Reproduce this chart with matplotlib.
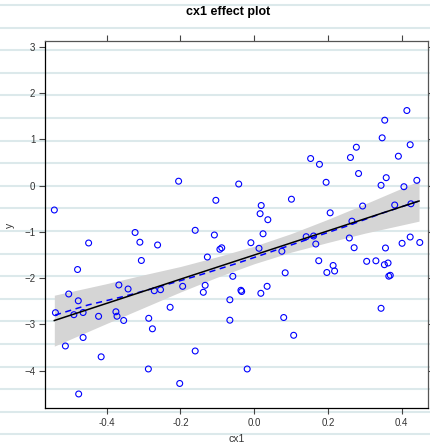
import numpy as np
import matplotlib.pyplot as plt
from matplotlib.lines import Line2D

plt.rcParams['font.family'] = ['Liberation Sans', 'DejaVu Sans']

# observed points
cx1 = [-0.542, -0.323, -0.449, -0.310, -0.262, -0.306, -0.479, -0.367, -0.342, -0.503,
       -0.477, -0.271, -0.254, -0.539, -0.489, -0.464, -0.422, -0.375, -0.372, -0.354,
       -0.286, -0.228, -0.276, -0.464, -0.512, -0.415, -0.287, -0.476, -0.205, -0.042,
       -0.104, 0.101, 0.019, 0.016, 0.037, -0.160, -0.108, 0.024, -0.009, 0.013,
       -0.088, -0.093, -0.127, 0.075, -0.058, 0.084, -0.194, -0.133, 0.035, -0.036,
       -0.034, -0.138, 0.018, -0.066, -0.066, 0.080, 0.107, -0.160, -0.019, -0.202,
       0.414, 0.354, 0.347, 0.277, 0.423, 0.153, 0.177, 0.261, 0.391, 0.283,
       0.195, 0.358, 0.344, 0.406, 0.441, 0.206, 0.294, 0.381, 0.425, 0.265,
       0.141, 0.161, 0.167, 0.258, 0.271, 0.356, 0.401, 0.423, 0.449, 0.175,
       0.305, 0.330, 0.353, 0.363, 0.214, 0.197, 0.218, 0.365, 0.369, 0.344]
y = [-0.529, -1.015, -1.242, -1.225, -1.285, -1.620, -1.815, -2.149, -2.236, -2.344,
     -2.491, -2.273, -2.251, -2.748, -2.791, -2.744, -2.826, -2.728, -2.824, -2.916,
     -2.869, -2.631, -3.096, -3.284, -3.467, -3.701, -3.964, -4.504, 0.093, 0.032,
     -0.320, -0.296, -0.432, -0.609, -0.739, -0.968, -1.069, -1.043, -1.236, -1.357,
     -1.346, -1.378, -1.545, -1.421, -1.962, -1.886, -2.178, -2.156, -2.178, -2.264,
     -2.290, -2.307, -2.329, -2.469, -2.910, -2.852, -3.236, -3.575, -3.964, -4.277,
     1.620, 1.411, 1.030, 0.827, 0.881, 0.583, 0.458, 0.605, 0.633, 0.259,
     0.069, 0.169, 0.004, -0.026, 0.112, -0.590, -0.443, -0.421, -0.395, -0.771,
     -1.106, -1.091, -1.264, -1.134, -1.344, -1.350, -1.249, -1.113, -1.231, -1.625,
     -1.638, -1.627, -1.711, -1.674, -1.728, -1.879, -1.847, -1.959, -1.940, -2.653]

# fitted effect with confidence band
fit_x = [-0.542, -0.4, -0.3, -0.2, -0.1, 0.0, 0.1, 0.2, 0.3, 0.447]
fit_y = [-2.917, -2.546, -2.285, -2.024, -1.763, -1.502, -1.241, -0.980, -0.719, -0.335]
fit_lo = [-3.47, -2.98, -2.64, -2.30, -1.98, -1.69, -1.44, -1.23, -1.03, -0.77]
fit_hi = [-2.37, -2.12, -1.93, -1.75, -1.54, -1.31, -1.04, -0.73, -0.40, 0.10]

# smoother of the partial residuals
smooth_x = [-0.54, -0.45, -0.35, -0.25, -0.15, -0.05, 0.05, 0.15, 0.25, 0.35, 0.445]
smooth_y = [-2.80, -2.58, -2.39, -2.17, -1.94, -1.69, -1.42, -1.15, -0.88, -0.59, -0.34]

xticks = [-0.4, -0.2, 0.0, 0.2, 0.4]
yticks = [-4, -3, -2, -1, 0, 1, 2, 3]

fig = plt.figure(figsize=(4.3, 4.44), dpi=100)

# faint horizontal stripes in the background of the whole picture
for yy in np.arange(5, 444, 22.6):
    fig.add_artist(Line2D([0, 1], [1 - yy / 444] * 2, transform=fig.transFigure,
                          color='#dce9eb', lw=1.5, zorder=-5))

ax = fig.add_axes([45 / 430, 36 / 444, 383 / 430, 367 / 444])
ax.set_facecolor('none')

ax.fill_between(fit_x, fit_lo, fit_hi, color='#d5d5d5', lw=0, zorder=1)
ax.scatter(cx1, y, s=18, facecolors='none', edgecolors='#0000ff', lw=0.8, zorder=3)
ax.plot(smooth_x, smooth_y, color='#0000ff', lw=1.1, ls=(0, (4, 3)), zorder=4)
ax.plot(fit_x, fit_y, color='black', lw=1.1, zorder=5)

ax.set_xlim(-0.5673, 0.4713)
ax.set_ylim(-4.807, 3.122)
ax.set_xticks(xticks)
ax.set_xticklabels(['-0.4', '-0.2', '0.0', '0.2', '0.4'])
ax.set_yticks(yticks)
ax.tick_params(direction='out', length=4, width=0.8, colors='#444444',
               labelsize=7, labelcolor='#333333', top=True, right=True, pad=3)
for side in ['left', 'bottom']:
    ax.spines[side].set_color('black')
for side in ['top', 'right']:
    ax.spines[side].set_color('#555555')
for sp in ax.spines.values():
    sp.set_linewidth(0.9)

fig.text(228 / 430, 1 - 12 / 444, 'cx1 effect plot', ha='center', va='center',
         fontsize=9, fontweight='bold')
fig.text(237 / 430, 1 - 439 / 444, 'cx1', ha='center', va='center', fontsize=7.5,
         color='#333333')
fig.text(10 / 430, 1 - 225 / 444, 'y', ha='center', va='center', fontsize=7.5,
         rotation=90, color='#333333')

fig.savefig('out.png', dpi=100)
